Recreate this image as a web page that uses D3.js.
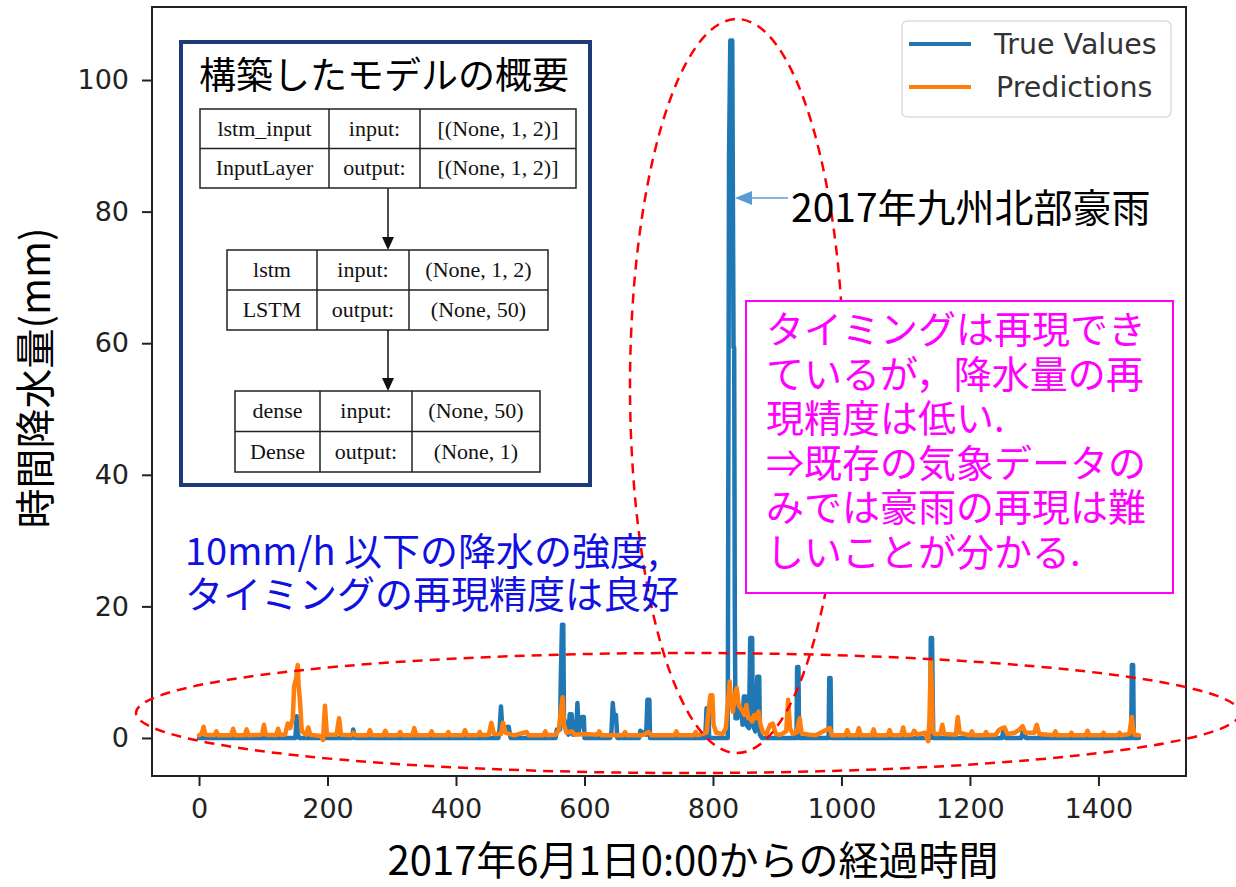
<!DOCTYPE html>
<html><head><meta charset="utf-8">
<script src="https://cdn.jsdelivr.net/npm/d3@7"></script>
<style>
html,body{margin:0;padding:0;background:#fff;}
#wrap{position:relative;width:1236px;height:887px;}
svg{display:block;}
.note{position:absolute;margin:0;padding:0;white-space:nowrap;font-family:'Noto Sans CJK JP','Noto Sans',sans-serif;}
</style></head>
<body>
<div id="wrap"><svg id="chart" width="1236" height="887"></svg></div>
<script>
// ---------------- data ----------------
const xTicks = [0, 200, 400, 600, 800, 1000, 1200, 1400];
const yTicks = [0, 20, 40, 60, 80, 100];
const seriesNames = ["True Values", "Predictions"];

// observed hourly precipitation (hour index, mm) – zero elsewhere
const trueHours = [0,150,152,154,156,238,240,243,466,468,470,472,482,485,555,557,562,563,565,567,568,575,577,580,582,587,589,591,596,599,600,640,642,644,646,649,651,685,687,696,698,701,702,788,790,793,794,820,823,825,827,830,832,833,834,835,838,841,844,846,848,851,852,856,858,861,862,866,869,872,873,876,930,931,933,934,980,981,983,984,1138,1139,1141,1142,1143,1250,1252,1256,1280,1283,1287,1451,1452,1454,1455,1463];
const trueVals  = [0,0,3.3,0.5,0,0,1.3,0,0,1.5,4.8,1.5,1.7,0,0,1.3,1.3,8.3,17.2,17.2,3,0.5,3.6,3.6,0.5,1,5.3,1,3.2,3.2,0,0,1,5.3,3,3.5,0,0,1.1,0.5,5.8,5.8,0,0,4.5,4.5,0,0,0,88.6,106,106,59.3,59.3,18,3,3,4.5,4.5,2,6.3,6.3,2,1.5,15.2,15.2,2,1,9.3,9.3,0.5,0,0,10.8,10.8,0,0,9.1,9.1,0,0,15.2,15.2,6,0,0,1.2,0,0,1.3,0,0,11.1,11.1,0,0];

// LSTM predictions (hour index, mm)
const predHours = [0,4,7,10,24,27,30,50,53,56,71,74,77,98,101,104,120,123,126,134,138,142,146,148,151,153.6,155,157,160,167,170,173,190,193,196,199,214,218,221,236,240,244,263,266,269,287,290,293,310,313,316,332,335,338,359,362,365,385,388,391,411,414,417,434,437,440,451,455,459,470,473,477,490,510,513,536,539,542,555,560,563,566,568,572,580,585,600,620,623,626,660,663,666,690,700,704,740,743,746,770,773,776,790,793,796,799,801,805,815,820,823,826,828,831,834,837,840,843,846,849,852,855,858,861,864,867,871,874,878,883,889,893,898,905,914,917,920,924,930,935,938,950,960,982,985,1006,1009,1012,1024,1027,1030,1047,1050,1053,1072,1075,1078,1093,1096,1099,1110,1113,1118,1130,1135,1137,1139,1141,1142,1145,1154,1157,1160,1178,1181,1184,1200,1203,1206,1222,1225,1228,1240,1245,1250,1254,1258,1270,1276,1282,1286,1300,1304,1308,1330,1333,1336,1355,1358,1361,1380,1383,1386,1405,1408,1411,1430,1433,1436,1448,1452,1454,1456,1463];
const predVals  = [0.4,0.6,1.7,0.5,0.4,1.0,0.4,0.4,1.4,0.4,0.4,1.3,0.4,0.5,2.0,0.5,0.4,1.4,0.5,0.5,2.2,1.5,3,7.8,9,11.1,8,5.8,1.0,0.5,1.6,0.5,0.3,-0.3,4.9,0.5,0.5,3.0,0.5,0.4,0.8,0.4,0.4,1.2,0.4,0.4,1.1,0.4,0.4,0.9,0.4,0.4,1.5,0.4,0.4,1.0,0.4,0.4,0.9,0.4,0.4,1.2,0.4,0.4,0.9,0.4,0.5,2.3,0.6,0.6,2.3,0.8,0.4,0.9,0.4,0.4,1.0,0.4,0.5,1.2,4,6.2,2,0.8,1.0,0.5,0.6,0.5,1.0,0.4,0.4,0.9,0.4,0.4,0.9,0.4,0.4,1.0,0.4,0.4,0.9,0.4,0.8,4,6.5,6.5,2,0.8,0.6,1.5,5,8.6,6,4,6.5,7.6,5,4.5,4.1,3.5,5,3,3,2.5,3.5,3,4,2,0.8,0.6,2.0,2.2,0.6,0.5,1,5.8,1.5,0.6,0.8,3.0,0.7,0.5,0.4,1.5,0.4,0.4,1.2,0.4,0.4,1.5,0.4,0.4,1.3,0.4,0.4,1.2,0.4,0.4,1.6,0.4,0.5,1.1,0.5,0.8,-0.5,3,11.8,6,1,0.6,0.6,2,0.6,0.5,3.2,0.8,0.4,1.0,0.4,0.4,0.9,0.4,0.5,1.2,1.5,1.6,0.6,0.8,1.2,1.8,0.8,0.8,2.0,0.6,0.4,1.0,0.4,0.4,0.8,0.4,0.4,1.1,0.4,0.4,0.8,0.4,0.4,0.8,0.4,0.6,3.2,1.5,0.5,0.4];

const pinkLines = ["タイミングは再現でき", "ているが，降水量の再", "現精度は低い.", "⇒既存の気象データの", "みでは豪雨の再現は難", "しいことが分かる."];
const blueLines = ["10mm/h 以下の降水の強度,", "タイミングの再現精度は良好"];

// ---------------- layout ----------------
const W = 1236, H = 887;
const plot = {left: 152, top: 7, right: 1186, bottom: 776};
const svg = d3.select("#chart");
svg.append("rect").attr("width", W).attr("height", H).attr("fill", "#fff");

const x = d3.scaleLinear().domain([-73.2, 1536.3]).range([plot.left, plot.right]);
const y = d3.scaleLinear().domain([-5.78, 111.1]).range([plot.bottom, plot.top]);

const tickFont = "'DejaVu Sans', sans-serif";
const jpFont = "'Noto Sans CJK JP', 'Noto Sans', sans-serif";

// series
const trueData = trueHours.map((h, i) => [h, trueVals[i]]);
const predData = predHours.map((h, i) => [h, predVals[i]]);
const line = d3.line().x(d => x(d[0])).y(d => y(d[1]));

const g = svg.append("g");
g.append("path").datum(trueData).attr("d", line)
  .attr("fill", "none").attr("stroke", "#1f77b4").attr("stroke-width", 4.5)
  .attr("stroke-linejoin", "round").attr("stroke-linecap", "round");
g.append("path").datum(predData).attr("d", line)
  .attr("fill", "none").attr("stroke", "#ff7f0e").attr("stroke-width", 4.5)
  .attr("stroke-linejoin", "round").attr("stroke-linecap", "round");

// axes
const xAxis = svg.append("g").attr("transform", `translate(0,${plot.bottom})`)
  .call(d3.axisBottom(x).tickValues(xTicks).tickSize(10).tickPadding(13).tickFormat(d3.format("d")));
const yAxis = svg.append("g").attr("transform", `translate(${plot.left},0)`)
  .call(d3.axisLeft(y).tickValues(yTicks).tickSize(10).tickPadding(13).tickFormat(d3.format("d")));
[xAxis, yAxis].forEach(a => {
  a.select(".domain").remove();
  a.selectAll(".tick line").attr("stroke", "#222").attr("stroke-width", 2);
  a.selectAll(".tick text").attr("fill", "#222").style("font-family", tickFont).style("font-size", "27px");
});
// frame
svg.append("rect").attr("x", plot.left).attr("y", plot.top)
  .attr("width", plot.right - plot.left).attr("height", plot.bottom - plot.top)
  .attr("fill", "none").attr("stroke", "#222").attr("stroke-width", 2);

// axis labels
svg.append("text").attr("x", 693).attr("y", 875).attr("text-anchor", "middle")
  .style("font-family", jpFont).style("font-size", "40px").attr("fill", "#000")
  .text("2017年6月1日0:00からの経過時間");
svg.append("text").attr("transform", "translate(50,378) rotate(-90)").attr("text-anchor", "middle")
  .style("font-family", jpFont).style("font-size", "40px").attr("fill", "#000")
  .text("時間降水量(mm)");

// legend
const lg = svg.append("g");
lg.append("rect").attr("x", 902).attr("y", 21).attr("width", 269).attr("height", 96).attr("rx", 5)
  .attr("fill", "#fff").attr("stroke", "#ddd").attr("stroke-width", 1.5);
const legColors = ["#1f77b4", "#ff7f0e"];
seriesNames.forEach((n, i) => {
  const yy = 44 + i * 43;
  lg.append("line").attr("x1", 909).attr("x2", 971).attr("y1", yy).attr("y2", yy)
    .attr("stroke", legColors[i]).attr("stroke-width", 4);
  lg.append("text").attr("x", 994 + (i === 1 ? 2 : 0)).attr("y", yy + 10)
    .style("font-family", tickFont).style("font-size", "28.5px").attr("fill", "#333").text(n);
});

// ellipses (dashed red)
svg.append("ellipse").attr("cx", 688).attr("cy", 713).attr("rx", 552).attr("ry", 60)
  .attr("fill", "none").attr("stroke", "#ff0000").attr("stroke-width", 2.5).attr("stroke-dasharray", "10,7");
svg.append("ellipse").attr("cx", 737).attr("cy", 386).attr("rx", 107).attr("ry", 367)
  .attr("fill", "none").attr("stroke", "#ff0000").attr("stroke-width", 2.5).attr("stroke-dasharray", "10,7");

// annotation: arrow + label
svg.append("line").attr("x1", 788).attr("y1", 198).attr("x2", 745).attr("y2", 198)
  .attr("stroke", "#5b9bd5").attr("stroke-width", 1.5);
svg.append("path").attr("d", "M735,198 L752,191 L752,205 Z").attr("fill", "#5b9bd5");
svg.append("text").attr("x", 791).attr("y", 222)
  .style("font-family", jpFont).style("font-size", "39px").attr("fill", "#000").text("2017年九州北部豪雨");

// pink box
svg.append("rect").attr("x", 746).attr("y", 301).attr("width", 427).attr("height", 292)
  .attr("fill", "#fff").attr("stroke", "#ff00ff").attr("stroke-width", 2);

// multi-line notes as single HTML blocks (tight line spacing like the reference)
const wrap = d3.select("#wrap");
function note(lines, left, firstBaseline, size, lh, color) {
  const asc = 1.16 * size, content = 1.448 * size;
  const top = firstBaseline - ((lh - content) / 2 + asc);
  const d = wrap.append("div").attr("class", "note")
    .style("left", left + "px").style("top", top + "px")
    .style("font-size", size + "px").style("line-height", lh + "px").style("color", color);
  lines.forEach((t, i) => {
    if (i) d.append("br");
    d.append("span").text(t);
  });
}
note(pinkLines, 766, 344, 38, 44.5, "#ff00ff");
note(blueLines, 185, 565, 38, 43, "#1010e0");

// inset: model summary
const ins = svg.append("g");
ins.append("rect").attr("x", 181).attr("y", 42).attr("width", 409).attr("height", 443)
  .attr("fill", "#fff").attr("stroke", "#1f3a78").attr("stroke-width", 4);
ins.append("text").attr("x", 199).attr("y", 89)
  .style("font-family", jpFont).style("font-size", "37px").attr("fill", "#000").text("構築したモデルの概要");
const serif = "'Liberation Serif', 'Times New Roman', serif";
const tables = [
  {cols: [200, 329, 420, 576], top: 109, rh: 39.5, cells: [["lstm_input", "input:", "[(None, 1, 2)]"], ["InputLayer", "output:", "[(None, 1, 2)]"]]},
  {cols: [227, 317, 409, 548], top: 250, rh: 40, cells: [["lstm", "input:", "(None, 1, 2)"], ["LSTM", "output:", "(None, 50)"]]},
  {cols: [235, 320, 412, 540], top: 391, rh: 40.5, cells: [["dense", "input:", "(None, 50)"], ["Dense", "output:", "(None, 1)"]]}
];
tables.forEach(tb => {
  const w = tb.cols[3] - tb.cols[0];
  ins.append("rect").attr("x", tb.cols[0]).attr("y", tb.top).attr("width", w).attr("height", tb.rh * 2)
    .attr("fill", "#fff").attr("stroke", "#222").attr("stroke-width", 1.5);
  ins.append("line").attr("x1", tb.cols[0]).attr("x2", tb.cols[3]).attr("y1", tb.top + tb.rh).attr("y2", tb.top + tb.rh)
    .attr("stroke", "#222").attr("stroke-width", 1.5);
  [1, 2].forEach(c => ins.append("line").attr("x1", tb.cols[c]).attr("x2", tb.cols[c])
    .attr("y1", tb.top).attr("y2", tb.top + tb.rh * 2).attr("stroke", "#222").attr("stroke-width", 1.5));
  tb.cells.forEach((row, r) => row.forEach((t, c) => {
    ins.append("text").attr("x", (tb.cols[c] + tb.cols[c + 1]) / 2).attr("y", tb.top + tb.rh * r + tb.rh / 2 + 7)
      .attr("text-anchor", "middle").style("font-family", serif).style("font-size", "22px").attr("fill", "#111").text(t);
  }));
});
// arrows between tables
[[188.5, 250], [330, 391]].forEach(([a, b]) => {
  ins.append("line").attr("x1", 388).attr("x2", 388).attr("y1", a).attr("y2", b - 12).attr("stroke", "#111").attr("stroke-width", 1.5);
  ins.append("path").attr("d", `M382,${b - 13} L394,${b - 13} L388,${b} Z`).attr("fill", "#111");
});
</script>
</body></html>
